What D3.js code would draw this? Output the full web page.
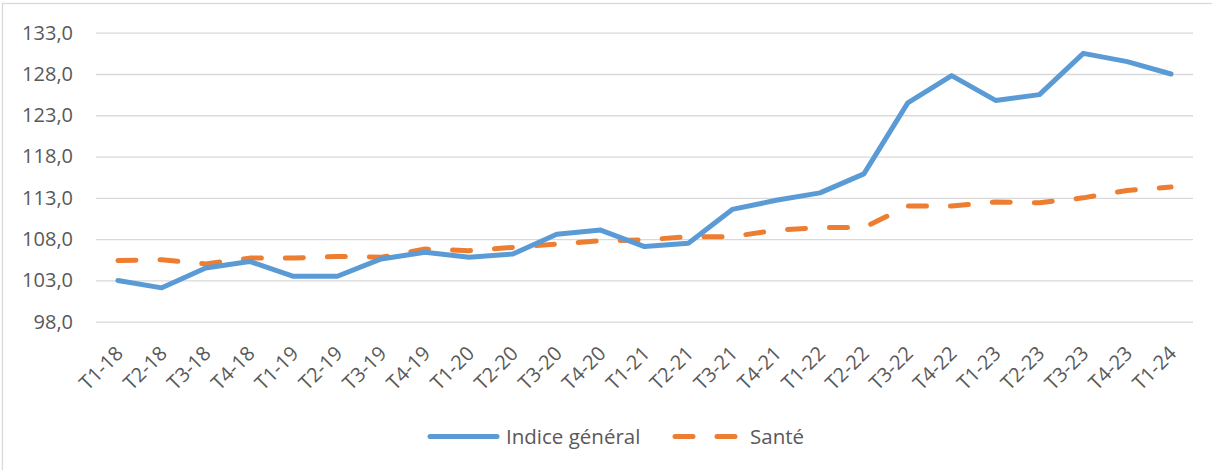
<!DOCTYPE html>
<html>
<head>
<meta charset="utf-8">
<script src="https://cdn.jsdelivr.net/npm/d3@7"></script>
<style>
  body { margin: 0; background: #fff; }
  text { font-family: "Open Sans", sans-serif; fill: #595959; }
</style>
</head>
<body>
<div id="chart"></div>
<script>
// quarters on the x axis
const quarters = ["T1-18", "T2-18", "T3-18", "T4-18", "T1-19", "T2-19", "T3-19", "T4-19",
    "T1-20", "T2-20", "T3-20", "T4-20", "T1-21", "T2-21", "T3-21", "T4-21",
    "T1-22", "T2-22", "T3-22", "T4-22", "T1-23", "T2-23", "T3-23", "T4-23", "T1-24"]
const indiceGeneral = [103.0, 102.1, 104.5, 105.3, 103.5, 103.5, 105.6, 106.4,
    105.8, 106.2, 108.6, 109.1, 107.1, 107.5, 111.6, 112.7,
    113.6, 115.9, 124.5, 127.8, 124.8, 125.5, 130.5, 129.5, 128.0]
const sante = [105.4, 105.5, 105.0, 105.7, 105.7, 105.9, 105.8, 106.8,
    106.6, 107.0, 107.4, 107.8, 107.9, 108.3, 108.3, 109.1,
    109.4, 109.4, 112.0, 112.0, 112.5, 112.4, 113.0, 113.9, 114.3]
const yTicks = [98, 103, 108, 113, 118, 123, 128, 133]

const W = 1212, H = 470
const plot = { left: 96, right: 1193, top: 32.7, bottom: 321.7 }

const svg = d3.select("#chart").append("svg")
    .attr("width", W)
    .attr("height", H)

// chart frame (runs past the right and bottom edges)
svg.append("rect")
    .attr("x", 2.5).attr("y", 3.5)
    .attr("width", 1240).attr("height", 520)
    .attr("fill", "none")
    .attr("stroke", "#d9d9d9")
    .attr("stroke-width", 1.3)

var x = d3.scalePoint()
    .domain(quarters)
    .range([plot.left, plot.right])
    .padding(0.5)

var y = d3.scaleLinear()
    .domain([98, 133])
    .range([plot.bottom, plot.top])

const frLocale = d3.formatLocale({ decimal: ",", thousands: " ", grouping: [3], currency: ["", " €"] })
const fmt = frLocale.format(".1f")

// y axis + gridlines
const yAxis = svg.append("g")
    .attr("transform", "translate(" + plot.left + ",0)")
    .call(d3.axisLeft(y).tickValues(yTicks).tickFormat(fmt)
        .tickSize(-(plot.right - plot.left)).tickPadding(23))
yAxis.select(".domain").remove()
yAxis.selectAll("line").attr("stroke", "#d9d9d9").attr("stroke-width", 1.3)
yAxis.selectAll("text")
    .style("font-size", "20px")
    .style("font-family", "'Open Sans', sans-serif")
    .attr("fill", "#595959")

// x axis labels, rotated
const xAxis = svg.append("g")
    .attr("transform", "translate(0," + plot.bottom + ")")
    .call(d3.axisBottom(x).tickSize(0).tickPadding(0))
xAxis.select(".domain").remove()
xAxis.selectAll("text")
    .style("font-size", "20px")
    .style("font-family", "'Open Sans', sans-serif")
    .attr("fill", "#595959")
    .attr("text-anchor", "end")
    .attr("dy", null)
    .attr("y", 0)
    .attr("transform", "translate(6,33) rotate(-45)")

// lines
const line = d3.line()
    .x((d, i) => x(quarters[i]))
    .y(d => y(d))

svg.append("path")
    .datum(sante)
    .attr("fill", "none")
    .attr("stroke", "#ed7d31")
    .attr("stroke-width", 5)
    .attr("stroke-linecap", "round")
    .attr("stroke-linejoin", "round")
    .attr("stroke-dasharray", "18,24")
    .attr("d", line)

svg.append("path")
    .datum(indiceGeneral)
    .attr("fill", "none")
    .attr("stroke", "#5b9bd5")
    .attr("stroke-width", 5)
    .attr("stroke-linecap", "round")
    .attr("stroke-linejoin", "round")
    .attr("d", line)

// legend
const legend = svg.append("g").attr("transform", "translate(0,436.5)")
legend.append("line")
    .attr("x1", 430).attr("x2", 497)
    .attr("stroke", "#5b9bd5").attr("stroke-width", 5).attr("stroke-linecap", "round")
legend.append("text")
    .attr("x", 506).attr("y", 7)
    .style("font-size", "20.5px")
    .text("Indice général")
legend.append("line")
    .attr("x1", 675).attr("x2", 736)
    .attr("stroke", "#ed7d31").attr("stroke-width", 5).attr("stroke-linecap", "round")
    .attr("stroke-dasharray", "18,24")
legend.append("text")
    .attr("x", 750).attr("y", 7)
    .style("font-size", "20.5px")
    .text("Santé")
</script>
</body>
</html>
